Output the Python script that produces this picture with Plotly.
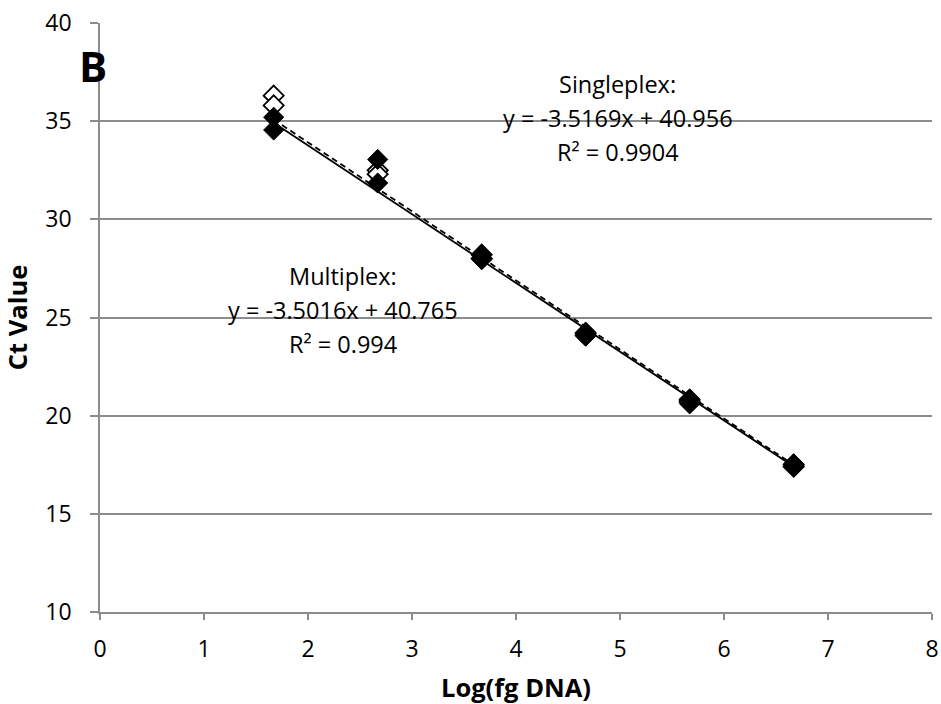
import plotly.graph_objects as go
import numpy as np

# Data
log_dna = [1.67, 1.67, 2.67, 2.67, 3.67, 3.67, 4.67, 4.67, 5.67, 5.67, 6.67, 6.67]
ct_singleplex = [36.3, 35.8, 32.5, 32.3, 28.2, 28.0, 24.2, 24.1, 20.8, 20.7, 17.5, 17.4]
ct_multiplex = [35.2, 34.55, 33.05, 31.85, 28.2, 27.95, 24.25, 24.05, 20.85, 20.6, 17.55, 17.4]

single_slope, single_intercept = -3.5169, 40.956
multi_slope, multi_intercept = -3.5016, 40.765

x_ticks = [0, 1, 2, 3, 4, 5, 6, 7, 8]
y_ticks = [10, 15, 20, 25, 30, 35, 40]

FONT = "Open Sans"
GRID = "#8c8c8c"

xr = np.array([min(log_dna), max(log_dna)])

fig = go.Figure()

fig.add_trace(go.Scatter(
    x=xr, y=single_slope * xr + single_intercept, mode="lines",
    line=dict(color="black", width=1.8, dash="6px,4px"), showlegend=False, hoverinfo="skip"))
fig.add_trace(go.Scatter(
    x=xr, y=multi_slope * xr + multi_intercept, mode="lines",
    line=dict(color="black", width=1.8), showlegend=False, hoverinfo="skip"))

fig.add_trace(go.Scatter(
    x=log_dna, y=ct_singleplex, mode="markers", name="Singleplex",
    marker=dict(symbol="diamond", size=15.5, color="white",
                line=dict(color="black", width=1.8)),
    showlegend=False))
fig.add_trace(go.Scatter(
    x=log_dna, y=ct_multiplex, mode="markers", name="Multiplex",
    marker=dict(symbol="diamond", size=15.5, color="black",
                line=dict(color="black", width=1)),
    showlegend=False))

ann_font = dict(family=FONT, size=23.5, color="black")
single_txt = ["Singleplex:",
              f"y = {single_slope}x + {single_intercept}",
              "R² = 0.9904"]
multi_txt = ["Multiplex:",
             f"y = {multi_slope}x + {multi_intercept}",
             "R² = 0.994"]
for i, t in enumerate(single_txt):
    fig.add_annotation(x=4.98, y=36.9 - i * 1.733, text=t, showarrow=False,
                       font=ann_font, xanchor="center", yanchor="middle")
for i, t in enumerate(multi_txt):
    fig.add_annotation(x=2.34, y=27.12 - i * 1.733, text=t, showarrow=False,
                       font=ann_font, xanchor="center", yanchor="middle")

fig.add_annotation(x=-0.0084, y=0.927, xref="paper", yref="paper", text="<b>B</b>",
                   showarrow=False, font=dict(family=FONT, size=42, color="black"),
                   xanchor="center", yanchor="middle")

# white band clipping top of the "40" label as in reference
fig.add_shape(type="rect", xref="paper", yref="paper", x0=-0.2, x1=-0.005,
              y0=1.017, y1=1.1, fillcolor="white", line=dict(width=0), layer="above")

fig.update_layout(
    width=941, height=704,
    margin=dict(l=100, r=9, t=23, b=92, autoexpand=False),
    plot_bgcolor="white", paper_bgcolor="white",
    font=dict(family=FONT, size=23, color="black"),
)
fig.update_xaxes(
    range=[0, 8], tickvals=x_ticks, ticktext=[str(v) for v in x_ticks],
    showgrid=False, zeroline=False, showline=True, linecolor=GRID, linewidth=1.5,
    ticks="outside", ticklen=6, tickcolor=GRID, tickwidth=1.5,
    ticklabelstandoff=10, automargin=False, ticklabeloverflow="allow",
    title=dict(text="<b>Log(fg DNA)</b>", font=dict(family=FONT, size=25.5), standoff=19),
)
fig.update_yaxes(
    range=[10, 40], tickvals=y_ticks, ticktext=[str(v) for v in y_ticks],
    showgrid=True, gridcolor=GRID, gridwidth=1.5, zeroline=False,
    showline=True, linecolor=GRID, linewidth=1.5,
    ticks="outside", ticklen=8, tickcolor=GRID, tickwidth=1.5,
    ticklabelstandoff=14, automargin=False, ticklabeloverflow="allow",
    title=dict(text="<b>Ct Value</b>", font=dict(family=FONT, size=25.5), standoff=11),
)

fig.write_html("out.html", config={"displayModeBar": False},
               post_script="document.body.style.margin='0';")
